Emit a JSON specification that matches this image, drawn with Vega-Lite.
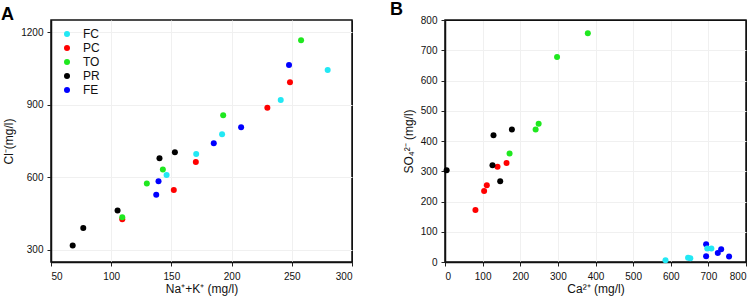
{
  "$schema": "https://vega.github.io/schema/vega-lite/v6.json",
  "padding": {"left": 0, "top": 0, "right": 5, "bottom": 5},
  "spacing": 93,
  "bounds": "flush",
  "datasets": {
    "a": [
      {"g": "FE", "x": 247.7, "y": 1064}, {"g": "FE", "x": 207.9, "y": 807}, {"g": "FE", "x": 185.2, "y": 741}, {"g": "FE", "x": 139.3, "y": 584}, {"g": "FE", "x": 137.4, "y": 528},
      {"g": "PC", "x": 248.5, "y": 993}, {"g": "PC", "x": 229.7, "y": 887}, {"g": "PC", "x": 170.3, "y": 663}, {"g": "PC", "x": 152, "y": 548}, {"g": "PC", "x": 109.2, "y": 427},
      {"g": "TO", "x": 257.7, "y": 1166}, {"g": "TO", "x": 193, "y": 856}, {"g": "TO", "x": 142.9, "y": 632}, {"g": "TO", "x": 129.6, "y": 574}, {"g": "TO", "x": 109.2, "y": 435},
      {"g": "PR", "x": 152.9, "y": 703}, {"g": "PR", "x": 140.1, "y": 679}, {"g": "PR", "x": 105.3, "y": 463}, {"g": "PR", "x": 76.8, "y": 390}, {"g": "PR", "x": 68, "y": 318},
      {"g": "FC", "x": 279.8, "y": 1043}, {"g": "FC", "x": 240.8, "y": 919}, {"g": "FC", "x": 192.1, "y": 778}, {"g": "FC", "x": 170.6, "y": 696}, {"g": "FC", "x": 146, "y": 609}
    ],
    "b": [
      {"g": "FE", "x": 694, "y": 59}, {"g": "FE", "x": 694, "y": 19}, {"g": "FE", "x": 725, "y": 30}, {"g": "FE", "x": 734, "y": 42}, {"g": "FE", "x": 755, "y": 18},
      {"g": "PC", "x": 163.6, "y": 327}, {"g": "PC", "x": 139.6, "y": 315}, {"g": "PC", "x": 111.1, "y": 254}, {"g": "PC", "x": 104, "y": 235}, {"g": "PC", "x": 80.9, "y": 172},
      {"g": "TO", "x": 379.6, "y": 756}, {"g": "TO", "x": 297.8, "y": 678}, {"g": "TO", "x": 248.9, "y": 457}, {"g": "TO", "x": 240.9, "y": 438}, {"g": "TO", "x": 171.6, "y": 359},
      {"g": "PR", "x": 177.8, "y": 438}, {"g": "PR", "x": 128.9, "y": 419}, {"g": "PR", "x": 126.2, "y": 320}, {"g": "PR", "x": 4.4, "y": 303}, {"g": "PR", "x": 146.7, "y": 267},
      {"g": "FC", "x": 586, "y": 6}, {"g": "FC", "x": 646, "y": 14}, {"g": "FC", "x": 652, "y": 12}, {"g": "FC", "x": 697, "y": 45}, {"g": "FC", "x": 708, "y": 45}
    ]
  },
  "hconcat": [
    {
      "width": 301,
      "height": 242,
      "title": {"text": "A", "anchor": "start", "frame": "group", "dx": -50, "offset": -18, "baseline": "alphabetic", "fontSize": 18, "fontWeight": "bold", "font": "Liberation Sans", "color": "#000"},
      "data": {"name": "a"},
      "mark": {"type": "circle", "size": 36, "opacity": 1},
      "encoding": {
        "x": {"field": "x", "type": "quantitative", "title": "Na⁺+K⁺ (mg/l)", "scale": {"domain": [50, 300], "nice": false, "zero": false}, "axis": {"values": [50, 100, 150, 200, 250, 300], "format": "d", "gridColor": {"condition": {"test": "datum.value == 50 || datum.value == 300", "value": "#111111"}, "value": "#f0f0f0"}}},
        "y": {"field": "y", "type": "quantitative", "title": "Cl⁻(mg/l)", "scale": {"domain": [250, 1250], "nice": false, "zero": false}, "axis": {"values": [300, 600, 900, 1200], "format": "d"}},
        "color": {"field": "g", "type": "nominal", "scale": {"domain": ["FC", "PC", "TO", "PR", "FE"], "range": ["#22e8f4", "#ff0000", "#1fe81f", "#000000", "#0000ff"]}, "legend": {"title": null, "orient": "none", "legendX": 10, "legendY": 8}}
      }
    },
    {
      "width": 301,
      "height": 242,
      "title": {"text": "B", "anchor": "start", "frame": "group", "dx": -55, "offset": -18, "baseline": "alphabetic", "fontSize": 18, "fontWeight": "bold", "font": "Liberation Sans", "color": "#000"},
      "data": {"name": "b"},
      "mark": {"type": "circle", "size": 36, "opacity": 1},
      "encoding": {
        "x": {"field": "x", "type": "quantitative", "title": "Ca²⁺ (mg/l)", "scale": {"domain": [0, 800], "nice": false}, "axis": {"values": [0, 100, 200, 300, 400, 500, 600, 700, 800], "format": "d", "gridColor": {"condition": {"test": "datum.value == 0 || datum.value == 800", "value": "#111111"}, "value": "#f0f0f0"}}},
        "y": {"field": "y", "type": "quantitative", "title": "SO₄²⁻ (mg/l)", "scale": {"domain": [0, 800], "nice": false}, "axis": {"values": [0, 100, 200, 300, 400, 500, 600, 700, 800], "format": "d", "gridColor": {"condition": {"test": "datum.value == 0 || datum.value == 800", "value": "#111111"}, "value": "#f0f0f0"}}},
        "color": {"field": "g", "type": "nominal", "scale": {"domain": ["FC", "PC", "TO", "PR", "FE"], "range": ["#22e8f4", "#ff0000", "#1fe81f", "#000000", "#0000ff"]}, "legend": null}
      }
    }
  ],
  "resolve": {"scale": {"color": "independent"}, "legend": {"color": "independent"}},
  "config": {
    "background": "#ffffff",
    "font": "Liberation Sans",
    "view": {"stroke": "#111111", "strokeWidth": 1.5},
    "axis": {
      "domain": true,
      "domainColor": "#111111",
      "domainWidth": 1.5,
      "grid": true,
      "gridColor": "#f0f0f0",
      "gridWidth": 1,
      "ticks": true,
      "tickSize": 4,
      "tickColor": "#222222",
      "labelFont": "Liberation Sans",
      "labelFontSize": 10,
      "labelColor": "#111111",
      "labelPadding": 4,
      "titleFont": "Liberation Sans",
      "titleFontSize": 12,
      "titleFontWeight": "normal",
      "titleColor": "#111111"
    },
    "axisX": {"titlePadding": 2, "labelPadding": 5},
    "axisY": {"titlePadding": 5},
    "legend": {
      "padding": 0,
      "labelFont": "Liberation Sans",
      "labelFontSize": 12,
      "labelColor": "#111111",
      "labelOffset": 10,
      "symbolType": "circle",
      "symbolSize": 36,
      "symbolStrokeWidth": 0,
      "rowPadding": 2,
      "symbolOpacity": 1
    }
  }
}
